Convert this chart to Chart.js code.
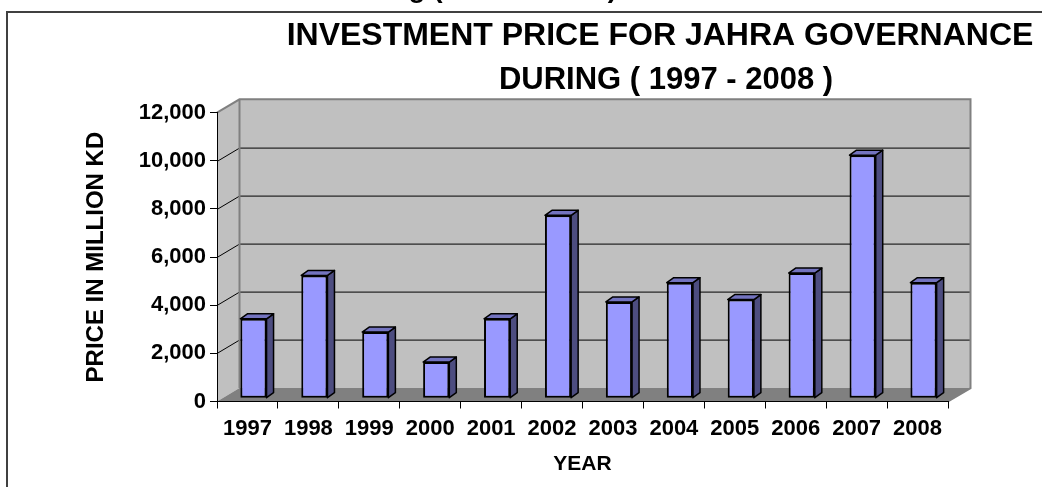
<!DOCTYPE html>
<html>
<head>
<meta charset="utf-8">
<title>Investment Price for Jahra Governance</title>
<script src="https://cdn.jsdelivr.net/npm/chart.js@4.4.1/dist/chart.umd.min.js"></script>
<style>
    html, body { margin: 0; padding: 0; background: #fff; }
    #wrap { width: 1042px; height: 487px; position: relative; }
</style>
</head>
<body>
<div id="wrap"><canvas id="investmentChart"></canvas></div>
<script>
// Investment price per year (million KD)
const years = ['1997', '1998', '1999', '2000', '2001', '2002', '2003', '2004', '2005', '2006', '2007', '2008'];
const investment = [3300, 5100, 2750, 1500, 3300, 7600, 4000, 4800, 4100, 5200, 10100, 4800];
const yTicks = [0, 2000, 4000, 6000, 8000, 10000, 12000];

const FONT = '"Liberation Sans", Arial, Helvetica, sans-serif';

// 3-D look: back wall offset, bar offset inside the box, bar depth
const wallDepth = { x: 22.5, y: -13.4 };
const barShift = { x: 6, y: -3.3 };
const barDepth = { x: 7, y: -5 };

function poly(ctx, pts) {
    ctx.beginPath();
    ctx.moveTo(pts[0][0], pts[0][1]);
    for (let i = 1; i < pts.length; i++) ctx.lineTo(pts[i][0], pts[i][1]);
    ctx.closePath();
}

const box3d = {
    id: 'box3d',
    beforeDraw(chart) {
        const ctx = chart.ctx;
        const { left, right, top, bottom } = chart.chartArea;
        const yScale = chart.scales.y;
        const dx = wallDepth.x, dy = wallDepth.y;
        ctx.save();

        // outer frame (top and left edges)
        ctx.strokeStyle = '#404040';
        ctx.lineWidth = 2;
        ctx.beginPath();
        ctx.moveTo(7, 487);
        ctx.lineTo(7, 12);
        ctx.lineTo(1042, 12);
        ctx.stroke();

        // side wall + back wall
        ctx.fillStyle = '#c0c0c0';
        poly(ctx, [[left, top], [left + dx, top + dy], [left + dx, bottom + dy], [left, bottom]]);
        ctx.fill();
        ctx.fillRect(left + dx, top + dy, right - left, bottom - top);

        // floor
        ctx.fillStyle = '#808080';
        poly(ctx, [[left, bottom], [left + dx, bottom + dy], [right + dx, bottom + dy], [right, bottom]]);
        ctx.fill();

        // gridlines running across the side and back walls
        ctx.strokeStyle = '#000';
        ctx.lineWidth = 1;
        ctx.beginPath();
        yTicks.slice(1, -1).forEach(v => {
            const py = Math.round(yScale.getPixelForValue(v)) + 0.5;
            ctx.moveTo(left, py);
            ctx.lineTo(left + dx, py + dy);
            ctx.lineTo(right + dx, py + dy);
        });
        ctx.stroke();

        // wall edges
        ctx.strokeStyle = '#808080';
        ctx.lineWidth = 2;
        ctx.beginPath();
        ctx.moveTo(left, top);
        ctx.lineTo(left + dx, top + dy);
        ctx.lineTo(right + dx, top + dy);
        ctx.lineTo(right + dx, bottom + dy);
        ctx.lineTo(right, bottom);
        ctx.moveTo(left + dx, top + dy);
        ctx.lineTo(left + dx, bottom + dy);
        ctx.stroke();

        ctx.restore();
    },
    beforeDatasetsDraw(chart) {
        const ctx = chart.ctx;
        ctx.save();
        ctx.translate(barShift.x, barShift.y);
        // side and top faces behind each bar's front face
        chart.getDatasetMeta(0).data.forEach(bar => {
            const l = bar.x - bar.width / 2;
            const r = bar.x + bar.width / 2;
            const t = bar.y, b = bar.base;
            const bx = barDepth.x, by = barDepth.y;
            ctx.lineWidth = 1.5;
            ctx.strokeStyle = '#000';
            ctx.lineJoin = 'round';
            ctx.fillStyle = '#4d4d80';
            poly(ctx, [[r, t], [r + bx, t + by], [r + bx, b + by], [r, b]]);
            ctx.fill();
            ctx.stroke();
            ctx.fillStyle = '#7373bf';
            poly(ctx, [[l, t], [l + bx, t + by], [r + bx, t + by], [r, t]]);
            ctx.fill();
            ctx.stroke();
        });
    },
    afterDatasetsDraw(chart) {
        chart.ctx.restore();
    },
    afterDraw(chart) {
        const ctx = chart.ctx;
        ctx.save();
        ctx.fillStyle = '#000';
        ctx.textAlign = 'center';
        ctx.textBaseline = 'alphabetic';
        ctx.font = 'bold 32px ' + FONT;
        ctx.fillText('INVESTMENT PRICE FOR JAHRA GOVERNANCE', 660, 45);
        ctx.font = 'bold 31px ' + FONT;
        ctx.fillText('DURING ( 1997 - 2008 )', 666, 88.5);
        // caption of the previous page, only its lower edge shows
        ctx.textAlign = 'right';
        ctx.font = 'bold 28px ' + FONT;
        ctx.fillText('During ( 1997 - 2008 )', 617, -3);
        ctx.restore();
    }
};

const ctx = document.getElementById('investmentChart').getContext('2d');
new Chart(ctx, {
    type: 'bar',
    data: {
        labels: years,
        datasets: [{
            label: 'Investment',
            data: investment,
            backgroundColor: '#9999ff',
            borderColor: '#000',
            borderWidth: 2,
            borderSkipped: false,
            categoryPercentage: 1,
            barPercentage: 0.43
        }]
    },
    options: {
        responsive: true,
        maintainAspectRatio: false,
        animation: false,
        layout: {
            padding: { left: 0, right: 94, top: 112.7, bottom: 0 }
        },
        plugins: {
            legend: { display: false },
            tooltip: { enabled: false }
        },
        scales: {
            x: {
                grid: { offset: true, drawOnChartArea: false, tickLength: 7, color: '#000' },
                border: { color: '#000', width: 1 },
                ticks: {
                    color: '#000',
                    padding: 7,
                    maxRotation: 0,
                    font: { family: FONT, size: 22, weight: 'bold' }
                },
                title: {
                    display: true,
                    text: 'YEAR',
                    color: '#000',
                    padding: { top: 0, bottom: 10 },
                    font: { family: FONT, size: 21, weight: 'bold' }
                },
                afterFit: s => { s.height = 85.5; }
            },
            y: {
                min: 0,
                max: 12000,
                afterBuildTicks: s => { s.ticks = yTicks.map(v => ({ value: v })); },
                grid: { drawOnChartArea: false, tickLength: 7, color: '#000' },
                border: { color: '#000', width: 1 },
                ticks: {
                    color: '#000',
                    padding: 4,
                    font: { family: FONT, size: 22, weight: 'bold' },
                    callback: v => v.toLocaleString('en-US')
                },
                title: {
                    display: true,
                    text: 'PRICE IN MILLION KD',
                    color: '#000',
                    padding: { top: 82, bottom: 0 },
                    font: { family: FONT, size: 24, weight: 'bold' }
                },
                afterFit: s => { s.width = 217; }
            }
        }
    },
    plugins: [box3d]
});
</script>
</body>
</html>
